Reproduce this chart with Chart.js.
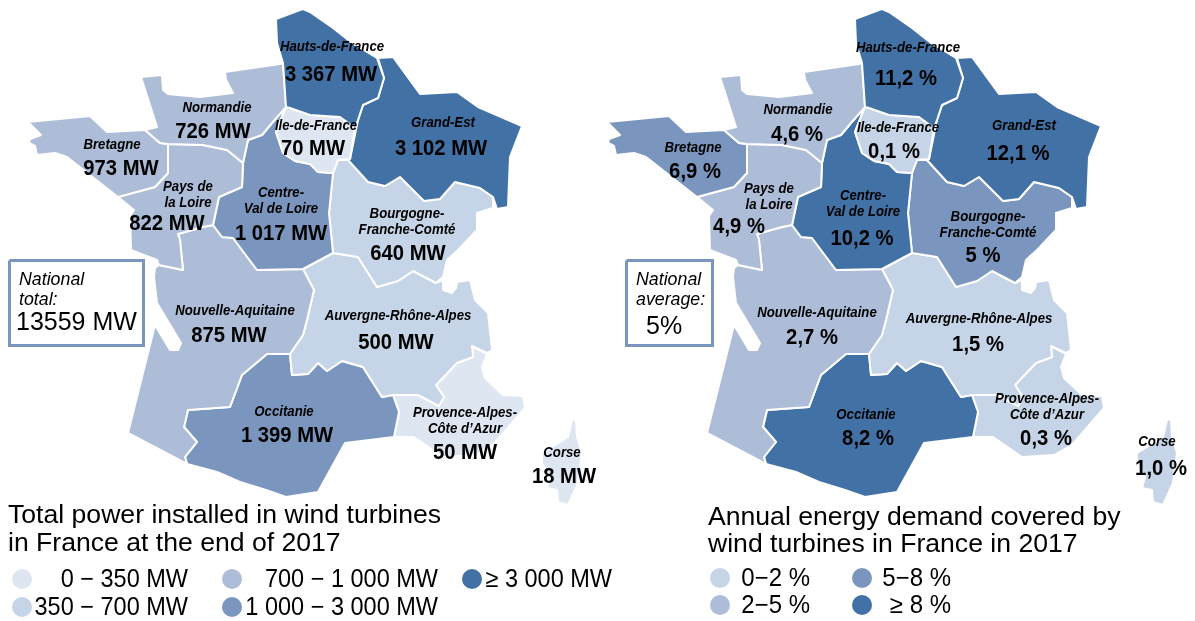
<!DOCTYPE html>
<html>
<head>
<meta charset="utf-8">
<title>Wind turbines in France 2017</title>
<script src="https://cdn.jsdelivr.net/npm/chart.js@4"></script>
<style>
  html, body { margin: 0; background: #fff; }
  #box { position: absolute; left: 0; top: 0; width: 1195px; height: 621px; }
</style>
</head>
<body>
<div id="box"><canvas id="myChart" width="1195" height="621"></canvas></div>
<script>
const regions = ['Hauts-de-France', 'Normandie', 'Ile-de-France', 'Grand-Est', 'Bretagne', 'Pays de\nla Loire', 'Centre-\nVal de Loire', 'Bourgogne-\nFranche-Comté', 'Nouvelle-Aquitaine', 'Auvergne-Rhône-Alpes', 'Occitanie', 'Provence-Alpes-\nCôte d’Azur', 'Corse']
const powerMW = [3367, 726, 70, 3102, 973, 822, 1017, 640, 875, 500, 1399, 50, 18]
const demandPct = [11.2, 4.6, 0.1, 12.1, 6.9, 4.9, 10.2, 5, 2.7, 1.5, 8.2, 0.3, 1.0]

const powerBreaks = [0, 350, 700, 1000, 3000]
const powerColors = ['#dde6f1', '#c5d4e6', '#adbdd8', '#7b96be', '#4272a5']
const demandBreaks = [0, 2, 5, 8]
const demandColors = ['#c5d4e6', '#adbdd8', '#7b96be', '#4272a5']

const powerLegend = ['0 − 350 MW', '350 − 700 MW', '700 − 1 000 MW', '1 000 − 3 000 MW', '≥ 3 000 MW']
const demandLegend = ['0−2 %', '2−5 %', '5−8 %', '≥ 8 %']

// region outlines in map units, same order as regions
const hauts = [[276,19],[300,10],[303,9],[310,12],[333,28],[352,43],[377,58],[384,78],[378,98],[363,105],[358,120],[355,128],[340,117],[310,115],[290,108],[286,107],[283,63],[277,43]]
const normandie = [[141,77],[162,75],[163,90],[168,94],[200,97],[233,93],[226,80],[225,72],[280,64],[283,63],[286,107],[272,123],[262,135],[248,140],[243,163],[227,150],[203,145],[168,144],[160,143],[145,130],[157,127]]
const idf = [[286,107],[290,108],[310,115],[340,117],[355,128],[350,159],[338,160],[333,173],[318,172],[310,164],[295,161],[283,153],[276,132]]
const grandEst = [[378,58],[393,57],[420,94],[457,92],[478,107],[522,126],[510,157],[508,207],[497,209],[493,197],[480,188],[455,182],[440,199],[424,201],[400,177],[385,186],[368,182],[348,160],[350,159],[358,120],[363,105],[378,98],[384,78]]
const bretagne = [[28,122],[90,116],[107,132],[145,130],[160,143],[168,144],[168,173],[155,187],[118,197],[67,157],[55,153],[37,155],[35,146],[29,143],[30,139],[41,135],[34,128]]
const paysLoire = [[168,144],[203,145],[227,150],[243,163],[242,187],[219,197],[213,225],[203,227],[178,234],[180,240],[183,270],[159,265],[157,260],[131,250],[130,216],[134,210],[118,197],[155,187],[168,173]]
const centre = [[262,135],[272,123],[285,108],[276,132],[283,153],[295,161],[310,164],[318,172],[333,173],[329,213],[333,253],[303,269],[257,270],[242,250],[233,238],[222,237],[213,225],[219,197],[242,187],[243,163],[248,140]]
const bourgogne = [[338,160],[348,160],[368,182],[385,186],[400,177],[424,201],[440,199],[455,182],[480,188],[493,197],[493,208],[477,213],[477,230],[458,250],[447,260],[443,277],[436,283],[413,271],[398,281],[377,287],[358,257],[333,253],[329,213],[333,173]]
const aquitaine = [[155,268],[159,265],[183,270],[180,240],[178,234],[203,227],[213,225],[222,237],[233,238],[242,250],[257,270],[303,269],[314,290],[307,320],[303,335],[290,354],[267,354],[242,375],[230,407],[188,410],[184,427],[197,442],[185,457],[187,464],[128,433],[155,325],[170,350],[178,350],[181,343],[157,303],[154,277]]
const rhone = [[303,269],[333,253],[358,257],[377,287],[398,281],[413,271],[436,283],[443,280],[443,290],[452,293],[456,288],[457,282],[470,280],[475,300],[488,313],[492,350],[487,353],[472,346],[473,357],[457,363],[436,385],[444,397],[439,406],[418,395],[393,395],[382,397],[363,367],[342,361],[327,371],[318,363],[308,374],[292,375],[290,354],[303,335],[307,320],[314,290]]
const occitanie = [[267,354],[290,354],[292,375],[308,374],[318,363],[327,371],[342,361],[363,367],[382,397],[393,395],[399,412],[394,437],[345,443],[318,492],[286,497],[266,490],[240,482],[217,472],[187,464],[185,457],[197,442],[184,427],[188,410],[230,407],[242,375]]
const paca = [[472,346],[487,354],[482,367],[485,378],[503,395],[523,396],[525,408],[493,445],[475,455],[443,457],[414,437],[394,437],[399,412],[393,395],[418,395],[439,406],[444,397],[436,385],[457,363],[473,357]]
const corse = [[572,420],[576,419],[577,437],[582,453],[578,483],[568,505],[558,502],[557,490],[547,488],[550,477],[542,463],[542,453],[552,447],[568,437]]
const outlines = [hauts, normandie, idf, grandEst, bretagne, paysLoire, centre, bourgogne, aquitaine, rhone, occitanie, paca, corse]

// where the texts go: name line centre, value centre
const powerLabelPos = [[332,46,331,74],[217,107,213,131],[316,125,313,148],[443,122,441,148],[112,144,121,168],[188,186,167,223],[281,192,281,233],[407,213,408,253],[235,310,229,335],[398,315,396,342],[284,411,287,435],[465,412,465,452],[562,452,564,476]]
const demandLabelPos = [[908,47,906,78],[798,109,797,134],[898,127,894,151],[1024,125,1018,153],[693,147,695,171],[769,188,739,226],[863,195,862,238],[988,216,983,255],[817,312,812,337],[979,318,978,344],[866,414,868,438],[1047,398,1046,438],[1157,441,1161,468]]

const rightShift = 579
const corseExtra = 16
const nameFont = 'italic bold 15px "Liberation Sans"'
const valueFont = 'bold 22px "Liberation Sans"'
const bodyFont = '26.6px "Liberation Sans"'
const legendFont = '25px "Liberation Sans"'
const noteFont = 'italic 17.8px "Liberation Sans"'
const noteValueFont = '25px "Liberation Sans"'

function classColor(value, breaks, colors) {
	let c = 0
	for (let i = 0; i < breaks.length; i++) {
		if (value >= breaks[i]) c = i
	}
	return colors[c]
}
function mw(v) {
	return String(v).replace(/\B(?=(\d{3})+$)/, ' ') + ' MW'
}
function pct(v) {
	let s = Number.isInteger(v) && v != 1 ? String(v) : v.toFixed(1).replace('.', ',')
	return s + ' %'
}
function regionSet(outline, color, dx) {
	let pts = outline.map(p => ({x: p[0] + dx, y: p[1]}))
	pts.push(pts[0])
	return {
		data: pts,
		fill: 'shape',
		backgroundColor: color,
		borderColor: '#ffffff',
		borderWidth: 2,
		borderJoinStyle: 'round',
		pointRadius: 0,
		tension: 0
	}
}
function boxSet(x0, x1, y0, y1) {
	return {
		data: [{x:x0,y:y0},{x:x1,y:y0},{x:x1,y:y1},{x:x0,y:y1},{x:x0,y:y0}],
		fill: 'shape',
		backgroundColor: '#ffffff',
		borderColor: '#7b96be',
		borderWidth: 3,
		borderJoinStyle: 'miter',
		pointRadius: 0,
		tension: 0
	}
}
function dotSet(x, y, color) {
	return {
		data: [{x: x, y: y}],
		showLine: false,
		pointRadius: 10,
		pointHoverRadius: 10,
		pointBackgroundColor: color,
		pointBorderWidth: 0
	}
}

const datasets = []
outlines.forEach((o, i) => {
	datasets.push(regionSet(o, classColor(powerMW[i], powerBreaks, powerColors), 0))
	let dx = o === corse ? rightShift + corseExtra : rightShift
	datasets.push(regionSet(o, classColor(demandPct[i], demandBreaks, demandColors), dx))
})
datasets.push(boxSet(9.5, 143.5, 260.5, 345.5))
datasets.push(boxSet(626.5, 712.5, 260.5, 345.5))

// legend dots
const powerDots = [[22,579],[22,607],[232,579],[232,607],[472,579]]
const demandDots = [[720,578],[720,605],[862,578],[862,605]]
powerDots.forEach((d, i) => datasets.push(dotSet(d[0], d[1], powerColors[i])))
demandDots.forEach((d, i) => datasets.push(dotSet(d[0], d[1], demandColors[i])))

const textPlugin = {
	id: 'mapText',
	afterDatasetsDraw(chart) {
		const ctx = chart.ctx
		const sx = chart.scales.x, sy = chart.scales.y
		// squeeze = horizontal scale, the source uses a condensed face we do not have
		function put(text, x, y, font, align, squeeze) {
			ctx.save()
			ctx.translate(sx.getPixelForValue(x), sy.getPixelForValue(y + 1))
			ctx.scale(squeeze || 1, 1)
			ctx.font = font
			ctx.textAlign = align || 'center'
			ctx.textBaseline = 'middle'
			ctx.fillStyle = '#000'
			ctx.fillText(text, 0, 0)
			ctx.restore()
		}
		function labels(pos, values, fmt) {
			regions.forEach((name, i) => {
				let p = pos[i]
				let lines = name.split('\n')
				lines.forEach((l, k) => put(l, p[0], p[1] + k * 16, nameFont, 'center', 0.88))
				put(fmt(values[i]), p[2], p[3], valueFont, 'center', 0.92)
			})
		}
		labels(powerLabelPos, powerMW, mw)
		labels(demandLabelPos, demandPct, pct)

		put('National', 19, 279, noteFont, 'left')
		put('total:', 19, 299, noteFont, 'left')
		put('13559 MW', 16, 322, noteValueFont, 'left')
		put('National', 636, 279, noteFont, 'left')
		put('average:', 636, 299, noteFont, 'left')
		put('5%', 646, 326, noteValueFont, 'left')

		put('Total power installed in wind turbines', 8, 515, bodyFont, 'left')
		put('in France at the end of 2017', 8, 543, bodyFont, 'left')
		put('Annual energy demand covered by', 708, 517, bodyFont, 'left')
		put('wind turbines in France in 2017', 708, 544, bodyFont, 'left')

		put(powerLegend[0], 188, 579, legendFont, 'right', 0.94)
		put(powerLegend[1], 188, 607, legendFont, 'right', 0.94)
		put(powerLegend[2], 438, 579, legendFont, 'right', 0.94)
		put(powerLegend[3], 438, 607, legendFont, 'right', 0.94)
		put(powerLegend[4], 612, 579, legendFont, 'right', 0.94)
		put(demandLegend[0], 810, 578, legendFont, 'right', 0.96)
		put(demandLegend[1], 810, 605, legendFont, 'right', 0.96)
		put(demandLegend[2], 951, 578, legendFont, 'right', 0.96)
		put(demandLegend[3], 951, 605, legendFont, 'right', 0.96)
	}
}

const config = {
	type: 'line',
	data: { datasets },
	options: {
		responsive: false,
		animation: false,
		clip: false,
		parsing: false,
		normalized: false,
		layout: { padding: 0 },
		events: [],
		scales: {
			// the 10px dots make Chart.js inset the plot area by 10px on each side
			x: { type: 'linear', min: 10, max: 1185, display: false },
			y: { type: 'linear', min: 10, max: 611, reverse: true, display: false }
		},
		plugins: {
			legend: { display: false },
			tooltip: { enabled: false }
		}
	},
	plugins: [textPlugin]
}

const myChart = new Chart(document.getElementById('myChart'), config)
</script>
</body>
</html>
